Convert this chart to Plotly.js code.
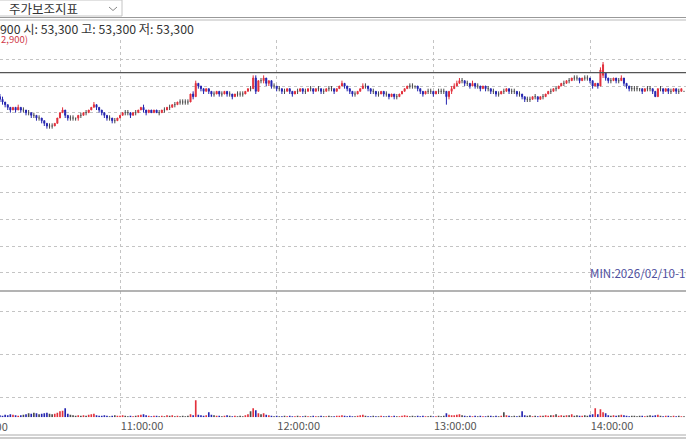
<!DOCTYPE html>
<html><head><meta charset="utf-8">
<script src="https://cdn.plot.ly/plotly-3.0.1.min.js"></script>
<style>html,body{margin:0;padding:0;background:#fff;overflow:hidden}#chart{width:686px;height:440px}</style>
</head><body><div id="chart"></div>
<script>
// ---- DATA (1-minute candles from 10:14, won) ----
const startTime = Date.UTC(2026, 1, 10, 10, 14, 0);
const opens = [
53100,53000,52900,52800,52700,52600,52700,52600,52700,52600,
52600,52500,52500,52400,52400,52300,52300,52200,52100,52000,
52000,52000,52100,52300,52500,52600,52400,52300,52300,52300,
52300,52400,52400,52500,52500,52600,52700,52800,52700,52600,
52500,52400,52300,52300,52200,52200,52300,52400,52500,52500,
52500,52400,52500,52500,52600,52700,52600,52500,52600,52500,
52600,52500,52500,52600,52600,52700,52700,52800,52800,52900,
52900,52900,52900,52900,53200,53100,53600,53500,53400,53300,
53400,53300,53200,53200,53300,53200,53200,53300,53200,53200,
53100,53200,53200,53200,53200,53300,53400,53400,53800,53300,
53700,53700,53800,53600,53700,53500,53500,53400,53400,53300,
53300,53400,53300,53200,53300,53300,53400,53300,53300,53400,
53400,53300,53400,53400,53300,53300,53400,53400,53400,53300,
53400,53500,53600,53500,53400,53300,53200,53200,53300,53400,
53500,53500,53400,53300,53300,53200,53200,53300,53200,53200,
53100,53200,53100,53100,53200,53300,53400,53500,53500,53500,
53500,53400,53300,53200,53300,53300,53300,53200,53300,53300,
53300,53300,53100,53300,53400,53500,53600,53700,53700,53600,
53600,53500,53600,53500,53500,53400,53500,53400,53400,53300,
53300,53200,53200,53300,53300,53400,53300,53300,53300,53200,
53200,53100,53000,53000,53000,53100,53100,53000,53100,53100,
53200,53300,53300,53400,53400,53500,53600,53600,53700,53700,
53800,53800,53800,53700,53800,53800,53800,53700,53500,53600,
53500,53900,54000,53800,53700,53700,53800,53700,53700,53800,
53600,53500,53400,53400,53400,53400,53400,53300,53400,53400,
53400,53300,53100,53400,53400,53300,53400,53300,53300,53400,
53300,53300,53300];
const highs = [
53200,53100,52900,52800,52700,52700,52700,52800,52700,52700,
52600,52600,52500,52500,52400,52400,52300,52200,52100,52100,
52100,52100,52300,52500,52700,52600,52400,52400,52400,52300,
52400,52500,52500,52600,52600,52700,52900,52800,52700,52600,
52500,52400,52400,52300,52300,52300,52400,52500,52600,52600,
52500,52500,52600,52600,52700,52800,52600,52600,52600,52600,
52600,52600,52600,52700,52700,52800,52800,52900,52900,53000,
53000,53000,53000,53200,53300,53700,53600,53500,53400,53400,
53400,53300,53300,53300,53300,53300,53300,53300,53300,53200,
53200,53300,53300,53300,53300,53400,53500,53900,53900,53700,
53800,53900,53800,53700,53700,53600,53500,53500,53400,53400,
53400,53400,53300,53300,53400,53400,53400,53400,53400,53500,
53400,53400,53500,53400,53400,53400,53500,53500,53400,53400,
53500,53700,53600,53500,53400,53300,53300,53300,53400,53600,
53600,53500,53400,53400,53300,53300,53300,53300,53300,53200,
53200,53200,53200,53200,53300,53400,53500,53600,53600,53500,
53500,53400,53300,53300,53400,53400,53300,53300,53400,53400,
53400,53300,53300,53500,53600,53700,53800,53800,53700,53700,
53600,53700,53600,53600,53500,53500,53500,53500,53400,53400,
53300,53300,53300,53400,53400,53400,53400,53400,53300,53300,
53200,53100,53100,53100,53100,53200,53100,53100,53200,53200,
53300,53400,53400,53500,53500,53600,53700,53700,53800,53800,
53900,53900,53800,53800,53900,53900,53800,53700,53600,53600,
54200,54400,54000,53800,53800,53800,53800,53800,53900,53800,
53600,53500,53500,53500,53500,53400,53400,53400,53500,53500,
53400,53300,53400,53500,53400,53400,53400,53400,53400,53400,
53400,53400,53300];
const lows = [
52900,52800,52700,52600,52500,52600,52500,52600,52500,52500,
52400,52400,52300,52300,52200,52200,52100,52000,51900,51900,
51900,52000,52100,52300,52500,52300,52200,52200,52200,52200,
52200,52300,52400,52400,52500,52600,52700,52600,52500,52400,
52300,52200,52200,52100,52100,52200,52300,52400,52400,52400,
52300,52400,52400,52500,52600,52500,52400,52500,52500,52500,
52500,52400,52500,52500,52600,52600,52700,52700,52800,52800,
52800,52800,52800,52900,53000,53100,53400,53300,53200,53300,
53200,53100,53100,53200,53100,53100,53200,53100,53100,53000,
53100,53100,53100,53100,53200,53300,53300,53400,53200,53300,
53600,53600,53500,53500,53400,53400,53300,53300,53200,53200,
53300,53200,53100,53200,53200,53300,53200,53200,53300,53300,
53200,53300,53300,53200,53200,53300,53300,53300,53200,53300,
53400,53500,53400,53300,53200,53100,53100,53200,53300,53400,
53400,53300,53200,53200,53100,53100,53200,53100,53100,53000,
53100,53000,53000,53100,53200,53300,53400,53400,53400,53400,
53300,53200,53100,53200,53200,53200,53100,53200,53200,53200,
53200,52800,53000,53200,53400,53500,53600,53600,53500,53500,
53400,53500,53400,53400,53300,53400,53300,53300,53200,53200,
53100,53100,53200,53200,53300,53200,53200,53200,53100,53100,
53000,52900,52900,52900,53000,53000,52900,53000,53000,53100,
53200,53200,53300,53300,53400,53500,53500,53600,53600,53700,
53700,53700,53600,53700,53700,53700,53600,53400,53500,53400,
53500,53800,53700,53600,53600,53700,53600,53600,53700,53500,
53400,53300,53300,53300,53300,53300,53200,53300,53300,53300,
53200,53100,53100,53300,53200,53300,53200,53200,53300,53200,
53200,53300,53300];
const closes = [
53000,52900,52800,52700,52600,52700,52600,52700,52600,52600,
52500,52500,52400,52400,52300,52300,52200,52100,52000,52000,
52000,52100,52300,52500,52600,52400,52300,52300,52300,52300,
52400,52400,52500,52500,52600,52700,52800,52700,52600,52500,
52400,52300,52300,52200,52200,52300,52400,52500,52500,52500,
52400,52500,52500,52600,52700,52600,52500,52600,52500,52600,
52500,52500,52600,52600,52700,52700,52800,52800,52900,52900,
52900,52900,52900,53200,53100,53600,53500,53400,53300,53400,
53300,53200,53200,53300,53200,53200,53300,53200,53200,53100,
53200,53200,53200,53200,53300,53400,53400,53800,53300,53700,
53700,53800,53600,53700,53500,53500,53400,53400,53300,53300,
53400,53300,53200,53300,53300,53400,53300,53300,53400,53400,
53300,53400,53400,53300,53300,53400,53400,53400,53300,53400,
53500,53600,53500,53400,53300,53200,53200,53300,53400,53500,
53500,53400,53300,53300,53200,53200,53300,53200,53200,53100,
53200,53100,53100,53200,53300,53400,53500,53500,53500,53500,
53400,53300,53200,53300,53300,53300,53200,53300,53300,53300,
53300,53100,53300,53400,53500,53600,53700,53700,53600,53600,
53500,53600,53500,53500,53400,53500,53400,53400,53300,53300,
53200,53200,53300,53300,53400,53300,53300,53300,53200,53200,
53100,53000,53000,53000,53100,53100,53000,53100,53100,53200,
53300,53300,53400,53400,53500,53600,53600,53700,53700,53800,
53800,53800,53700,53800,53800,53800,53700,53500,53600,53500,
54100,54300,53800,53700,53700,53800,53700,53700,53800,53600,
53500,53400,53400,53400,53400,53400,53300,53400,53400,53400,
53300,53100,53400,53400,53300,53400,53300,53300,53400,53300,
53300,53400,53300];
const volumes = [
200,150,250,200,300,250,200,150,200,250,
300,400,350,450,400,300,350,400,450,350,
300,350,450,600,650,900,350,250,200,150,
200,150,200,150,250,300,350,200,150,150,
200,150,100,150,200,150,150,200,150,100,
150,100,150,200,250,300,200,150,100,150,
150,100,150,100,200,150,200,100,150,100,
150,100,150,300,200,1700,250,200,150,200,
500,250,200,150,150,100,150,200,150,100,
150,100,150,100,200,300,600,900,700,400,
300,400,250,200,150,100,150,100,100,150,
100,150,100,100,150,100,100,150,100,100,
150,100,100,150,100,100,150,100,100,150,
150,200,150,100,150,100,100,150,200,250,
150,100,100,150,100,100,150,100,100,150,
100,150,100,100,150,200,150,100,150,100,
150,100,150,100,100,150,100,100,150,100,
150,400,250,200,200,250,300,200,150,100,
150,100,150,100,150,100,100,150,150,100,
150,100,150,500,200,150,100,150,100,150,
600,200,150,200,100,150,100,150,150,200,
150,200,200,300,150,200,150,200,200,300,
150,200,150,150,200,150,250,300,900,300,
800,500,400,200,150,200,150,200,250,200,
150,100,150,150,100,150,150,100,150,200,
150,200,250,150,100,150,150,100,150,100,
150,100,100];
const refLevel = 54000;
const firstHourLabel = '10:00:00';
const infoText = '900 시: 53,300 고: 53,300 저: 53,300';
const changeText = '2,900)';
const indicatorLabel = '주가보조지표';
const minLabel = 'MIN:2026/02/10-10:32:00';

// ---- BUILD ----
const UP = '#e2303c', DOWN = '#2424b0', FLAT = '#4a4a4a';
function ts(ms){ return new Date(ms).toISOString().slice(0,19).replace('T',' '); }
const times = opens.map((_, i) => ts(startTime + i*60000));

const cx=[],co=[],ch=[],cl=[],cc=[];
const dx=[],dy=[];
opens.forEach((o,i)=>{
  if (o !== closes[i]) { cx.push(times[i]); co.push(o); ch.push(highs[i]); cl.push(lows[i]); cc.push(closes[i]); }
  else {
    const t = startTime + i*60000;
    dx.push(times[i], times[i], null, ts(t-15000), ts(t+15000), null);
    dy.push(lows[i], highs[i], null, o, o, null);
  }
});
const volColors = opens.map((o,i)=> closes[i]>o ? UP : (closes[i]<o ? DOWN : FLAT));

const W=686,H=440;
const py = p => 1 - p/H, px = p => p/W;

const traces = [
  {type:'candlestick', x:cx, open:co, high:ch, low:cl, close:cc, xaxis:'x', yaxis:'y',
   increasing:{line:{color:UP,width:1},fillcolor:UP},
   decreasing:{line:{color:DOWN,width:1},fillcolor:DOWN},
   whiskerwidth:0, hoverinfo:'skip', showlegend:false},
  {type:'scatter', mode:'lines', x:dx, y:dy, xaxis:'x', yaxis:'y',
   line:{color:FLAT,width:1}, hoverinfo:'skip', showlegend:false, connectgaps:false},
  {type:'bar', x:times, y:volumes, xaxis:'x2', yaxis:'y2', width:38000,
   marker:{color:volColors,line:{width:0}}, hoverinfo:'skip', showlegend:false}
];

const xr = ['2026-02-10 10:14:02','2026-02-10 14:36:46'];
const gridC = '#c4c4c4';
const layout = {
  width:W, height:H, margin:{l:0,r:0,t:0,b:0},
  paper_bgcolor:'#fff', plot_bgcolor:'#fff',
  font:{family:'"Noto Sans CJK KR", "Noto Sans", sans-serif', size:11, color:'#444'},
  showlegend:false, boxgap:0.45,
  xaxis:{domain:[0,1], anchor:'y', type:'date', range:xr, rangeslider:{visible:false},
    tick0:'2026-02-10 10:00:00', dtick:3600000, showticklabels:false, ticks:'',
    showgrid:true, gridcolor:gridC, griddash:'dot', gridwidth:1, zeroline:false, showline:false},
  xaxis2:{domain:[0,1], anchor:'y2', matches:'x', type:'date', range:xr,
    tick0:'2026-02-10 10:00:00', dtick:3600000, tickformat:'%H:%M:%S', ticks:'',
    ticklabelshift:22, ticklabelstandoff:1, tickfont:{size:11,color:'#555'},
    showgrid:true, gridcolor:gridC, griddash:'dot', gridwidth:1, zeroline:false, showline:false},
  yaxis:{domain:[py(291), py(40)], range:[45812.5,55225], tick0:500, dtick:1000,
    showticklabels:false, ticks:'', showgrid:true, gridcolor:gridC, griddash:'dot', zeroline:false, fixedrange:true},
  yaxis2:{domain:[py(417.3), py(291)], range:[0,12630], tick0:2030, dtick:4300,
    showticklabels:false, ticks:'', showgrid:true, gridcolor:gridC, griddash:'dot', zeroline:false},
  shapes:[
    {type:'line', xref:'paper', yref:'y', x0:0, x1:1, y0:refLevel, y1:refLevel, line:{color:'#555',width:1.2}},
    {type:'line', xref:'paper', yref:'paper', x0:0, x1:1, y0:py(291), y1:py(291), line:{color:'#9a9a9a',width:1.5}},
    {type:'line', xref:'paper', yref:'paper', x0:0, x1:1, y0:py(17.5), y1:py(17.5), line:{color:'#999',width:1}},
    {type:'line', xref:'paper', yref:'paper', x0:0, x1:1, y0:py(20), y1:py(20), line:{color:'#bbb',width:1}},
    {type:'line', xref:'paper', yref:'paper', x0:0, x1:1, y0:py(435), y1:py(435), line:{color:'#aaa',width:1}},
    {type:'line', xref:'paper', yref:'paper', x0:0, x1:1, y0:py(438), y1:py(438), line:{color:'#bbb',width:1.5}},
    {type:'rect', xref:'paper', yref:'paper', x0:px(-1), x1:px(122), y0:py(16), y1:py(0), line:{color:'#c4c4c4',width:1}, fillcolor:'#fff'},
    {type:'path', xref:'paper', yref:'paper',
     path:`M ${px(109)} ${py(7)} L ${px(113)} ${py(10.5)} L ${px(117)} ${py(7)}`, line:{color:'#888',width:1}}
  ],
  annotations:[
    {xref:'paper', yref:'paper', x:px(7), y:py(8.5), xanchor:'left', yanchor:'middle', showarrow:false,
     text:indicatorLabel, font:{size:12.5,color:'#333'}},
    {xref:'paper', yref:'paper', x:px(-2), y:py(29), xanchor:'left', yanchor:'middle', showarrow:false,
     text:infoText, font:{size:12.3,color:'#333'}},
    {xref:'paper', yref:'paper', x:px(-1), y:py(38.5), xanchor:'left', yanchor:'middle', showarrow:false,
     text:changeText, font:{size:9.5,color:'#d03848'}},
    {xref:'paper', yref:'paper', x:px(588), y:py(272.5), xanchor:'left', yanchor:'middle', showarrow:false,
     text:minLabel, font:{size:11.6,color:'#4e4e9e'}},
    {xref:'paper', yref:'paper', x:px(-36.7), y:py(426), xanchor:'left', yanchor:'middle', showarrow:false,
     text:firstHourLabel, font:{size:11,color:'#555'}}
  ]
};
Plotly.newPlot('chart', traces, layout, {staticPlot:true, displayModeBar:false});
</script></body></html>
